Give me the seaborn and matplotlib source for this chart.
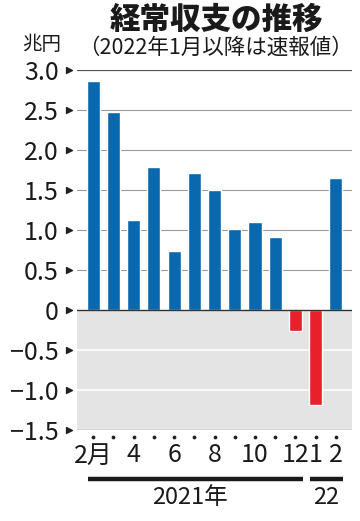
import pandas as pd
import matplotlib.pyplot as plt
import matplotlib.transforms as mtransforms
import seaborn as sns
import numpy as np

# datos (billones de yenes)
months = ['2021-02', '2021-03', '2021-04', '2021-05', '2021-06', '2021-07', '2021-08',
          '2021-09', '2021-10', '2021-11', '2021-12', '2022-01', '2022-02']
values = [2.86, 2.47, 1.13, 1.79, 0.74, 1.71, 1.50, 1.01, 1.10, 0.91, -0.26, -1.19, 1.65]
tick_pos = [0, 2, 4, 6, 8, 10, 11, 12]
tick_labels = ['2月', '4', '6', '8', '10', '12', '1', '2']
ytick_values = [3.0, 2.5, 2.0, 1.5, 1.0, 0.5, 0.0, -0.5, -1.0, -1.5]
ytick_labels = ['3.0', '2.5', '2.0', '1.5', '1.0', '0.5', '0', '−0.5', '−1.0', '−1.5']

sns.set_style('white')
plt.rcParams['font.family'] = ['Noto Sans CJK JP', 'DejaVu Sans']

df = pd.DataFrame({'month': months, 'value': values})
df['sign'] = np.where(df['value'] >= 0, 'pos', 'neg')

fig = plt.figure(figsize=(3.6, 5.21), dpi=100)
ax = fig.add_axes([0.214, 0.1747, 0.764, 0.6909])

# fondo gris para la zona negativa
ax.axhspan(-1.5, 0, color='#e4e4e4', zorder=0, lw=0)
for y in [0.5, 1.0, 1.5, 2.0, 2.5]:
    ax.axhline(y, color='#9a9a9a', lw=0.8, zorder=0.5)
for y in [-0.5, -1.0]:
    ax.axhline(y, color='white', lw=1.2, zorder=0.5)
ax.axhline(3.0, color='#555555', lw=0.9, zorder=0.5)
ax.axhline(-1.5, color='#777777', lw=0.9, zorder=0.5)

sns.barplot(data=df, x='month', y='value', hue='sign',
            palette={'pos': '#0a68ae', 'neg': '#e8202a'},
            dodge=False, legend=False, width=0.65, saturation=1, ax=ax, zorder=2)
ax.axhline(0, color='#333333', lw=1.0, zorder=3)

ax.set_xlim(-0.8, 12.8)
ax.set_ylim(-1.5, 3.0)
for s in ax.spines.values():
    s.set_visible(False)
ax.set_xlabel('')
ax.set_ylabel('')

ax.set_yticks(ytick_values)
ax.set_yticklabels(ytick_labels, fontsize=18, color='#1a1a1a')
ax.tick_params(axis='y', length=0, pad=13)
ax.set_xticks(tick_pos)
ax.set_xticklabels(tick_labels, fontsize=18, color='#1a1a1a')
ax.tick_params(axis='x', length=0, pad=9)

# triangulos de las marcas del eje y
trans_y = mtransforms.blended_transform_factory(ax.transAxes, ax.transData)
ax.scatter([-0.028] * len(ytick_values), ytick_values, marker='>', s=18,
           color='#222222', transform=trans_y, clip_on=False, zorder=5)
# puntos del eje x
trans_x = mtransforms.blended_transform_factory(ax.transData, ax.transAxes)
ax.scatter(range(len(months)), [-0.02] * len(months), marker='o', s=3,
           color='#222222', transform=trans_x, clip_on=False, zorder=5)

# barras de año
trans_f = mtransforms.blended_transform_factory(ax.transData, fig.transFigure)
ax.plot([-0.25, 10.35], [1 - 479 / 521] * 2, color='#1a1a1a', lw=3.2,
        transform=trans_f, clip_on=False, solid_capstyle='butt')
ax.plot([10.7, 12.35], [1 - 479 / 521] * 2, color='#1a1a1a', lw=3.2,
        transform=trans_f, clip_on=False, solid_capstyle='butt')
ax.text(4.8, 1 - 498 / 521, '2021年', transform=trans_f, ha='center', va='center',
        fontsize=17, color='#1a1a1a')
ax.text(11.5, 1 - 498 / 521, '22', transform=trans_f, ha='center', va='center',
        fontsize=17, color='#1a1a1a')

# titulos
fig.text(216 / 360, 1 - 19 / 521, '経常収支の推移', ha='center', va='center',
         fontsize=22, fontweight='heavy', color='#1a1a1a')
fig.text(215 / 360, 1 - 48 / 521, '（2022年1月以降は速報値）', ha='center', va='center',
         fontsize=15.5, color='#1a1a1a')
fig.text(42 / 360, 1 - 45 / 521, '兆円', ha='center', va='center',
         fontsize=14, color='#1a1a1a')

plt.savefig('out.png', dpi=100)
